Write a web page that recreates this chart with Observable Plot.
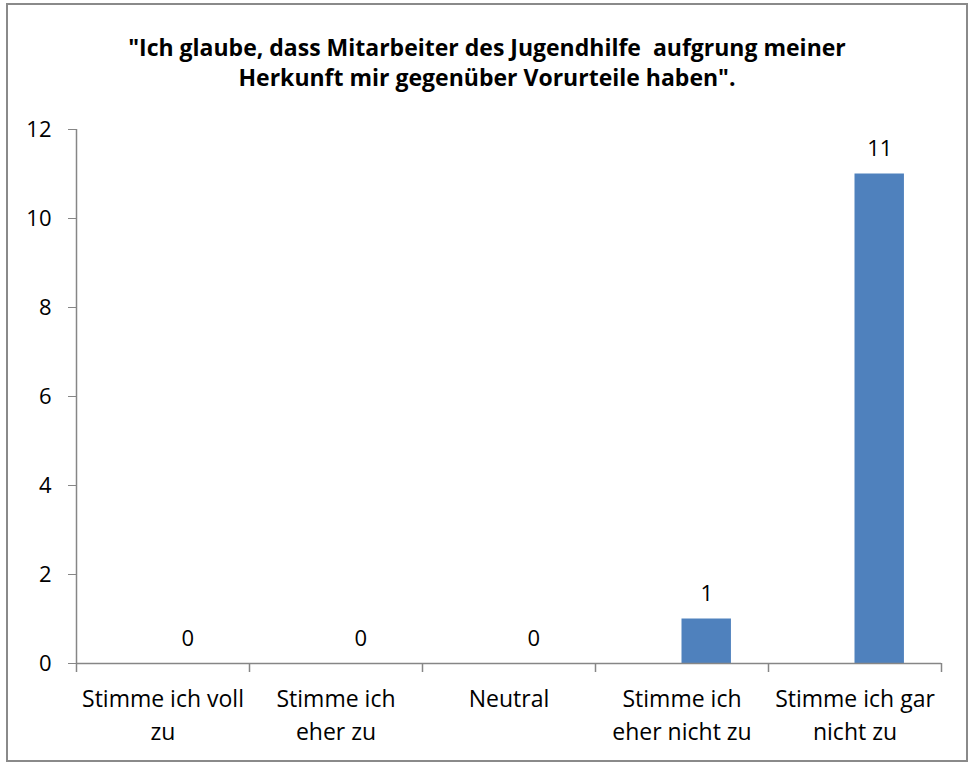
<!DOCTYPE html>
<html>
<head>
<meta charset="utf-8">
<script src="https://cdn.jsdelivr.net/npm/d3@7"></script>
<script src="https://cdn.jsdelivr.net/npm/@observablehq/plot@0.6"></script>
<style>
  body { margin: 0; background: #fff; }
  #wrap { position: absolute; left: 6px; top: 3px; width: 962px; height: 759px; border: 2px solid #8a8a8a; box-sizing: border-box; background: #fff; }
  #title { height: 97px; box-sizing: border-box; padding-top: 27px; text-align: center; font-family: "Open Sans", sans-serif; font-weight: bold; font-size: 23px; line-height: 30px; color: #000; letter-spacing: 0px; }
  #chart svg { display: block; }
</style>
</head>
<body>
<div id="wrap">
  <div id="title">"Ich glaube, dass Mitarbeiter des Jugendhilfe&nbsp; aufgrung meiner<br>Herkunft mir gegenüber Vorurteile haben".</div>
  <div id="chart"></div>
</div>
<script>
const categories = ["Stimme ich voll\nzu", "Stimme ich\neher zu", "Neutral", "Stimme ich\neher nicht zu", "Stimme ich gar\nnicht zu"];
const values = [0, 0, 0, 1, 11];
const yTicks = [0, 2, 4, 6, 8, 10, 12];

const data = categories.map((c, i) => ({category: c, value: values[i]}));

const W = 958, H = 655;
const mL = 68, mR = 25, mT = 27, mB = 94;
const bw = (W - mL - mR) / categories.length; // band width
const barW = bw / 3.5; // Excel: 2 series + 150% gap
const axisColor = "#868686";
const font = "Open Sans, sans-serif";

const chart = Plot.plot({
  width: W,
  height: H,
  marginLeft: mL,
  marginRight: mR,
  marginTop: mT,
  marginBottom: mB,
  style: {fontFamily: font, fontSize: "22px", color: "#000", background: "#fff"},
  x: {domain: categories, padding: 0, label: null},
  y: {domain: [0, 12], label: null},
  marks: [
    Plot.axisY({ticks: yTicks, tickSize: 8, tickPadding: 17, stroke: axisColor, fill: "#000", fontSize: 22, label: null}),
    Plot.axisX({tickSize: 0, tickPadding: 20, lineHeight: 1.43, fill: "#000", fontSize: 23, label: null}),
    // bars (second series slot of an Excel clustered pair)
    Plot.barY(data, {x: "category", y: "value", fill: "#4F81BD", insetLeft: bw / 2, insetRight: bw / 2 - barW}),
    // data labels
    Plot.text(data, {x: "category", y: "value", text: d => String(d.value), dx: barW / 2, dy: -18, lineAnchor: "bottom", fontSize: 22, fill: "#000"}),
    // y axis line
    Plot.ruleX([categories[0]], {dx: -bw / 2, y1: 0, y2: 12, stroke: axisColor, strokeWidth: 1.5}),
    // x axis line
    Plot.ruleY([0], {stroke: axisColor, strokeWidth: 1.5}),
    // category boundary ticks
    Plot.ruleX(categories, {dx: -bw / 2, y1: 0, y2: 0, insetBottom: -9, stroke: axisColor, strokeWidth: 1.5}),
    Plot.ruleX([categories[categories.length - 1]], {dx: bw / 2, y1: 0, y2: 0, insetBottom: -9, stroke: axisColor, strokeWidth: 1.5})
  ]
});
document.getElementById("chart").appendChild(chart);
</script>
</body>
</html>
